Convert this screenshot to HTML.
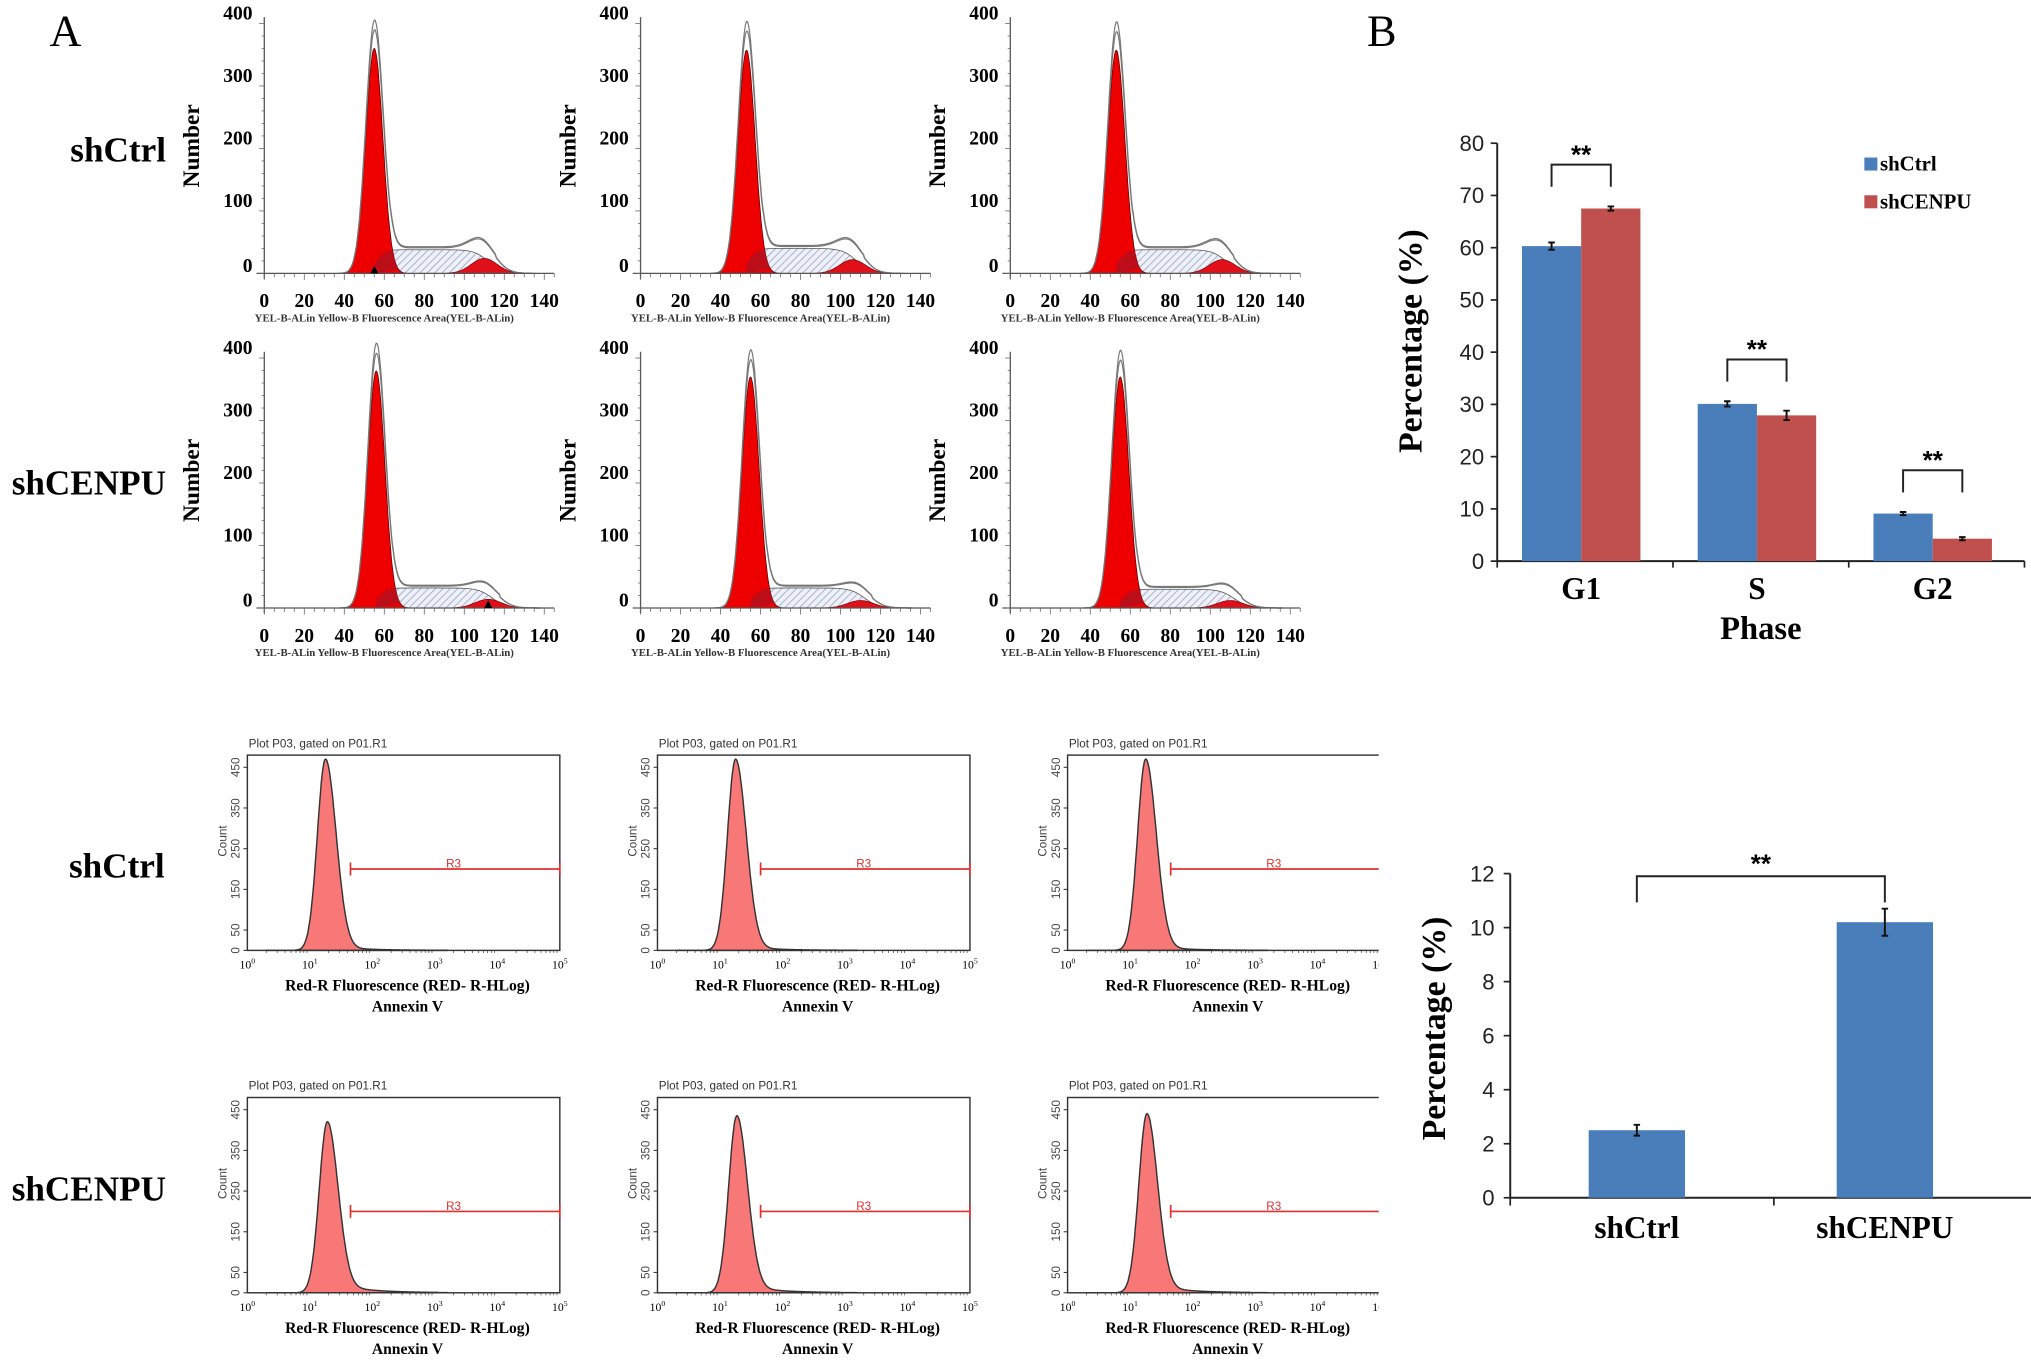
<!DOCTYPE html>
<html><head><meta charset="utf-8">
<style>
html,body{margin:0;padding:0;background:#fff;}
svg{display:block;}
text{font-family:"Liberation Serif",serif;}
.sans{font-family:"Liberation Sans",sans-serif;}
</style></head>
<body>
<svg id="fig" width="2031" height="1367" viewBox="0 0 1560 1050" preserveAspectRatio="none" xmlns="http://www.w3.org/2000/svg">
<defs>
<pattern id="hatch" patternUnits="userSpaceOnUse" width="4" height="4" patternTransform="rotate(45)">
<rect width="4" height="4" fill="#eef0f8"/>
<line x1="0" y1="0" x2="0" y2="4" stroke="#8890b8" stroke-width="1"/>
</pattern>
</defs>
<text x="38" y="35" font-size="34">A</text>
<text x="1050" y="35" font-size="34">B</text>
<text x="54" y="124" font-size="27" font-weight="bold">shCtrl</text>
<text x="9" y="380" font-size="27" font-weight="bold">shCENPU</text>
<text x="53" y="674" font-size="27" font-weight="bold">shCtrl</text>
<text x="9" y="922" font-size="27" font-weight="bold">shCENPU</text>
<g id="g-hist"></g>
<g id="g-annex"></g>
<g id="g-barB"></g>
<g id="g-barC"></g>
</svg>
<script>
// ---------- Cell cycle histograms (data) ----------
const histG1Mean = [55, 53, 53, 56, 55, 55];
const histG1Height = [375, 372, 372, 395, 385, 385];
const histSHeight = [38, 40, 38, 32, 32, 30];
const histG2Height = [24, 22, 22, 14, 12, 12];
const histXTicks = [0, 20, 40, 60, 80, 100, 120, 140];
const histYTicks = [0, 100, 200, 300, 400];
// ---------- Annexin histograms (data) ----------
const annexPeakLog = [1.25, 1.25, 1.25, 1.28, 1.27, 1.27];
const annexPeakCount = [470, 470, 470, 420, 435, 440];
const annexTail = [12, 12, 12, 28, 22, 22];
const annexYTicks = [0, 50, 150, 250, 350, 450];
const annexXTicks = [0, 1, 2, 3, 4, 5];
const gateStartLog = 1.65;
const gateCount = 200;
// ---------- Bar chart B (data) ----------
const phases = ["G1", "S", "G2"];
const ctrlPct = [60.3, 30.1, 9.1];
const ctrlErr = [0.7, 0.5, 0.3];
const cenpuPct = [67.5, 27.9, 4.3];
const cenpuErr = [0.4, 0.9, 0.3];
const bTicks = [0, 10, 20, 30, 40, 50, 60, 70, 80];
// ---------- Bar chart C (data) ----------
const groups = ["shCtrl", "shCENPU"];
const apopPct = [2.5, 10.2];
const apopErr = [0.2, 0.5];
const cTicks = [0, 2, 4, 6, 8, 10, 12];

const NS = "http://www.w3.org/2000/svg";
function mk(parent, tag, attrs, txt){
  const e = document.createElementNS(NS, tag);
  for (const k in attrs) e.setAttribute(k, attrs[k]);
  if (txt !== undefined) e.textContent = txt;
  parent.appendChild(e);
  return e;
}
function gauss(x, m, s){ return Math.exp(-0.5*((x-m)/s)*((x-m)/s)); }
function sig(x){ return 1/(1+Math.exp(-x)); }

// ----- Cell cycle panels -----
const gh = document.getElementById('g-hist');
const histAxisX = [203, 492, 776, 203, 492, 776];
const histZeroY = [210, 210, 210, 467, 467, 467];
for (let i = 0; i < 6; i++) {
  const g = mk(gh, 'g', {});
  
  
  const ax = histAxisX[i], zy = histZeroY[i];
  const sx = v => ax + v * 1.536;
  const sy = n => zy - n * 0.48;
  const mu = histG1Mean[i], h1 = histG1Height[i], hs = histSHeight[i], h2 = histG2Height[i];
  const g1 = x => h1 * gauss(x, mu, 4.3);
  const sreg = x => hs * sig((x - mu - 1) / 2.2) * sig((2*mu - x + 2) / 3.5);
  const g2 = x => h2 * gauss(x, 2*mu, 6.5);
  let d = 'M' + sx(mu-5) + ',' + sy(0);
  for (let x = mu-5; x <= 2*mu+20; x += 0.5) d += 'L' + sx(x).toFixed(1) + ',' + sy(sreg(x)).toFixed(1);
  d += 'L' + sx(2*mu+20) + ',' + sy(0) + 'Z';
  const sp = mk(g, 'path', {d: d, fill: 'url(#hatch)', stroke: '#555', 'stroke-width': 0.6});
  
  
  d = 'M' + sx(2*mu-20) + ',' + sy(0);
  for (let x = 2*mu-20; x <= 2*mu+20; x += 0.5) d += 'L' + sx(x).toFixed(1) + ',' + sy(g2(x)).toFixed(1);
  d += 'Z';
  const p2 = mk(g, 'path', {d: d, fill: '#e0101a', stroke: '#700', 'stroke-width': 0.5});
  
  
  d = 'M' + sx(mu-16) + ',' + sy(0);
  for (let x = mu-16; x <= mu+16; x += 0.25) d += 'L' + sx(x).toFixed(1) + ',' + sy(g1(x)*0.96).toFixed(1);
  d += 'Z';
  const p1 = mk(g, 'path', {d: d, fill: '#ee0000', stroke: '#600', 'stroke-width': 0.6});
  
  
  d = 'M' + sx(mu) + ',' + sy(0);
  for (let x = mu; x <= mu+12; x += 0.25) d += 'L' + sx(x).toFixed(1) + ',' + sy(Math.min(sreg(x), g1(x)*0.96)).toFixed(1);
  d += 'Z';
  mk(g, 'path', {d: d, fill: '#b0101e', opacity: 0.8});
  for (const f of [1.0, 1.04]) {
    d = '';
    for (let x = mu-18; x <= 2*mu+26; x += 0.5) {
      const v = (g1(x) + sreg(x) + g2(x)) * f + (x > mu+8 && x < 2*mu+6 ? 3*f : 0);
      d += (d ? 'L' : 'M') + sx(x).toFixed(1) + ',' + sy(v).toFixed(1);
    }
    const o = mk(g, 'path', {d: d, fill: 'none', stroke: '#777', 'stroke-width': 0.9});
    
    
  }
  mk(g, 'line', {x1: ax, y1: sy(410), x2: ax, y2: zy+4, stroke: '#555', 'stroke-width': 1});
  mk(g, 'line', {x1: ax-6, y1: zy, x2: sx(145), y2: zy, stroke: '#555', 'stroke-width': 1});
  for (let v = 0; v <= 400; v += 20) mk(g, 'line', {x1: ax-(v%100?2:4), y1: sy(v), x2: ax, y2: sy(v), stroke: '#666', 'stroke-width': 0.6});
  for (let v = 0; v <= 145; v += 5) mk(g, 'line', {x1: sx(v), y1: zy, x2: sx(v), y2: zy+(v%20?3:5), stroke: '#666', 'stroke-width': 0.6});
  histYTicks.forEach(v => {
    const t = mk(g, 'text', {x: ax-9, y: sy(v)+ (v===0?-1:-3), 'font-size': 15, 'font-weight': 'bold', 'text-anchor': 'end'}, String(v));
    
    
  });
  histXTicks.forEach(v => {
    const t = mk(g, 'text', {x: sx(v), y: zy+26, 'font-size': 15, 'font-weight': 'bold', 'text-anchor': 'middle'}, String(v));
    
    
  });
  const xt = mk(g, 'text', {x: sx(60), y: zy+37, 'font-size': 8.3, 'font-weight': 'bold', 'text-anchor': 'middle', fill: '#333'}, 'YEL-B-ALin Yellow-B Fluorescence Area(YEL-B-ALin)');
  
  
  const yt = mk(g, 'text', {x: 0, y: 0, 'font-size': 18, 'font-weight': 'bold', 'text-anchor': 'middle', transform: 'translate(' + (ax-50) + ',' + (zy-98) + ') rotate(-90)'}, 'Number');
  
  
  if (i === 0 || i === 3) mk(g, 'path', {d: 'M' + (sx(i===0?mu:2*mu)-3) + ',' + (zy+0) + 'l3,-6l3,6z', fill: '#000'});
}

// ----- Annexin panels -----
const ga = document.getElementById('g-annex');
const boxX = [190, 505, 820, 190, 505, 820];
const boxTop = [580, 580, 580, 843, 843, 843];
for (let i = 0; i < 6; i++) {
  const g = mk(ga, 'g', {});
  
  
  const bx = boxX[i], bt = boxTop[i], bw = 240, bh = 150;
  const sx = l => bx + l * bw / 5;
  const sy = c => bt + bh - c * bh / 480;
  const pk = annexPeakLog[i], H = annexPeakCount[i], T = annexTail[i];
  const f = l => {
    const s = l < pk ? 0.13 : 0.17;
    let v = H * gauss(l, pk, s);
    if (l > pk) v += T * Math.exp(-(l - pk) / 0.5) * sig((l - pk - 0.2) / 0.05);
    return v;
  };
  let d = 'M' + sx(0.3) + ',' + sy(0);
  for (let l = 0.3; l <= 3.2; l += 0.01) d += 'L' + sx(l).toFixed(1) + ',' + sy(f(l)).toFixed(1);
  d += 'L' + sx(3.2) + ',' + sy(0) + 'Z';
  const p = mk(g, 'path', {d: d, fill: '#f87878', stroke: '#333', 'stroke-width': 1.1});
  
  
  mk(g, 'rect', {x: bx, y: bt, width: bw, height: bh, fill: 'none', stroke: '#333', 'stroke-width': 1.1});
  const tt = mk(g, 'text', {x: bx+1, y: bt-6, 'font-size': 9, fill: '#333', class: 'sans'}, 'Plot P03, gated on P01.R1');
  
  
  const gy = sy(gateCount);
  const gate = mk(g, 'path', {d: 'M' + sx(gateStartLog) + ',' + gy + 'H' + sx(5) + 'M' + sx(gateStartLog) + ',' + (gy-5) + 'v10M' + sx(5) + ',' + (gy-5) + 'v10', stroke: '#e03030', 'stroke-width': 1.3, fill: 'none'});
  
  
  mk(g, 'text', {x: sx(3.3), y: gy-1, 'font-size': 9, fill: '#e03030', 'text-anchor': 'middle', class: 'sans'}, 'R3');
  annexYTicks.forEach(v => {
    mk(g, 'line', {x1: bx-3, y1: sy(v), x2: bx, y2: sy(v), stroke: '#333', 'stroke-width': 0.8});
    const t = mk(g, 'text', {x: 0, y: 0, 'font-size': 9, fill: '#444', 'text-anchor': 'middle', class: 'sans', transform: 'translate(' + (bx-6) + ',' + sy(v) + ') rotate(-90)'}, String(v));
    
    
  });
  annexXTicks.forEach(v => {
    const t = mk(g, 'text', {x: sx(v), y: bt+bh+14, 'font-size': 9, 'text-anchor': 'middle'}, '10');
    mk(t, 'tspan', {dy: -4, 'font-size': 6}, String(v));
    
    
    for (let k = 2; k < 10 && v < 5; k++) mk(g, 'line', {x1: sx(v + Math.log10(k)), y1: bt+bh, x2: sx(v + Math.log10(k)), y2: bt+bh+2, stroke: '#333', 'stroke-width': 0.5});
  });
  const yl = mk(g, 'text', {x: 0, y: 0, 'font-size': 9, fill: '#444', 'text-anchor': 'middle', class: 'sans', transform: 'translate(' + (bx-16) + ',' + (bt+66) + ') rotate(-90)'}, 'Count');
  
  
  const x1 = mk(g, 'text', {x: bx+123, y: bt+bh+31, 'font-size': 12, 'font-weight': 'bold', 'text-anchor': 'middle'}, 'Red-R Fluorescence (RED- R-HLog)');
  
  
  const x2 = mk(g, 'text', {x: bx+123, y: bt+bh+47, 'font-size': 12, 'font-weight': 'bold', 'text-anchor': 'middle'}, 'Annexin V');
  
  
}
mk(ga, 'rect', {x: 1059, y: 560, width: 40, height: 500, fill: '#fff'});

// ----- Bar chart B -----
const gb = document.getElementById('g-barB');
{
  const ax = 1150, y0 = 431, y80 = 110, right = 1555;
  const sy = v => y0 - v * (y0 - y80) / 80;
  const gw = (right - ax) / phases.length;
  const bw = 45.5;
  mk(gb, 'line', {x1: ax, y1: y80, x2: ax, y2: y0, stroke: '#222', 'stroke-width': 1.5});
  mk(gb, 'line', {x1: ax, y1: y0, x2: right, y2: y0, stroke: '#222', 'stroke-width': 1.5});
  bTicks.forEach(v => {
    mk(gb, 'line', {x1: ax-5, y1: sy(v), x2: ax, y2: sy(v), stroke: '#222', 'stroke-width': 1.3});
    const t = mk(gb, 'text', {x: ax-10, y: sy(v)+6, 'font-size': 17, 'text-anchor': 'end', class: 'sans', fill: '#222'}, String(v));
    
    
  });
  for (let k = 0; k <= phases.length; k++) mk(gb, 'line', {x1: ax + k*gw, y1: y0, x2: ax + k*gw, y2: y0+5, stroke: '#222', 'stroke-width': 1.3});
  phases.forEach((p, k) => {
    const cx = ax + gw*k + gw/2 - 3;
    [[ctrlPct[k], ctrlErr[k], '#4a7ebb', cx-bw, 'bar-shctrl-'], [cenpuPct[k], cenpuErr[k], '#c0504d', cx, 'bar-shcenpu-']].forEach(([v, e, c, x, nm]) => {
      const r = mk(gb, 'rect', {x: x, y: sy(v), width: bw, height: y0 - sy(v), fill: c});
      
      
      mk(gb, 'path', {d: 'M' + (x+bw/2) + ',' + sy(v+e) + 'V' + sy(v-e) + 'M' + (x+bw/2-2.5) + ',' + sy(v+e) + 'h5M' + (x+bw/2-2.5) + ',' + sy(v-e) + 'h5', stroke: '#111', 'stroke-width': 1.5});
    });
    const top = sy(Math.max(ctrlPct[k]+ctrlErr[k], cenpuPct[k]+cenpuErr[k]) + 8);
    const b = mk(gb, 'path', {d: 'M' + (cx-bw/2) + ',' + (top+17) + 'V' + top + 'H' + (cx+bw/2) + 'V' + (top+17), fill: 'none', stroke: '#222', 'stroke-width': 1.5});
    
    
    mk(gb, 'text', {x: cx, y: top-1, 'font-size': 20, 'font-weight': 'bold', 'text-anchor': 'middle', class: 'sans'}, '**');
    const t = mk(gb, 'text', {x: cx, y: y0+29, 'font-size': 24, 'font-weight': 'bold', 'text-anchor': 'middle'}, p);
    
    
  });
  const xt = mk(gb, 'text', {x: ax + gw*1.5, y: y0+60, 'font-size': 25, 'font-weight': 'bold', 'text-anchor': 'middle'}, 'Phase');
  
  
  const yt = mk(gb, 'text', {x: 0, y: 0, 'font-size': 26, 'font-weight': 'bold', 'text-anchor': 'middle', transform: 'translate(1092,262) rotate(-90)'}, 'Percentage (%)');
  
  
  const l1 = mk(gb, 'g', {});
  
  
  mk(l1, 'rect', {x: 1432, y: 121, width: 10, height: 10, fill: '#4a7ebb'});
  mk(l1, 'text', {x: 1444, y: 131, 'font-size': 16, 'font-weight': 'bold'}, 'shCtrl');
  const l2 = mk(gb, 'g', {});
  
  
  mk(l2, 'rect', {x: 1432, y: 150, width: 10, height: 10, fill: '#c0504d'});
  mk(l2, 'text', {x: 1444, y: 160, 'font-size': 16, 'font-weight': 'bold'}, 'shCENPU');
}

// ----- Bar chart C -----
const gc = document.getElementById('g-barC');
{
  const ax = 1160, y0 = 920, ytop = 671, right = 1565;
  const sy = v => y0 - v * (y0 - ytop) / 12;
  const gw = (right - ax) / groups.length;
  const bw = 74;
  mk(gc, 'line', {x1: ax, y1: ytop, x2: ax, y2: y0, stroke: '#222', 'stroke-width': 1.5});
  mk(gc, 'line', {x1: ax, y1: y0, x2: right, y2: y0, stroke: '#222', 'stroke-width': 1.5});
  cTicks.forEach(v => {
    mk(gc, 'line', {x1: ax-5, y1: sy(v), x2: ax, y2: sy(v), stroke: '#222', 'stroke-width': 1.3});
    const t = mk(gc, 'text', {x: ax-12, y: sy(v)+6, 'font-size': 17, 'text-anchor': 'end', class: 'sans', fill: '#222'}, String(v));
    
    
  });
  for (let k = 0; k <= groups.length; k++) mk(gc, 'line', {x1: ax + k*gw, y1: y0, x2: ax + k*gw, y2: y0+6, stroke: '#222', 'stroke-width': 1.3});
  const cxs = [];
  groups.forEach((gname, k) => {
    const cx = ax + gw*k + gw/2 - 4 + k*(-12);
    cxs.push(cx);
    const r = mk(gc, 'rect', {x: cx-bw/2, y: sy(apopPct[k]), width: bw, height: y0 - sy(apopPct[k]), fill: '#4a7ebb'});
    
    
    const e = apopErr[k], v = apopPct[k];
    mk(gc, 'path', {d: 'M' + cx + ',' + sy(v+e) + 'V' + sy(v-e) + 'M' + (cx-2.5) + ',' + sy(v+e) + 'h5M' + (cx-2.5) + ',' + sy(v-e) + 'h5', stroke: '#111', 'stroke-width': 1.5});
    const t = mk(gc, 'text', {x: cx, y: y0+31, 'font-size': 24, 'font-weight': 'bold', 'text-anchor': 'middle'}, gname);
    
    
  });
  const bt = sy(Math.max(apopPct[0]+apopErr[0], apopPct[1]+apopErr[1]) + 1.2);
  const b = mk(gc, 'path', {d: 'M' + cxs[0] + ',' + (bt+20) + 'V' + bt + 'H' + cxs[1] + 'V' + (bt+20), fill: 'none', stroke: '#222', 'stroke-width': 1.5});
  
  
  mk(gc, 'text', {x: (cxs[0]+cxs[1])/2, y: bt-3, 'font-size': 20, 'font-weight': 'bold', 'text-anchor': 'middle', class: 'sans'}, '**');
  const yt = mk(gc, 'text', {x: 0, y: 0, 'font-size': 26, 'font-weight': 'bold', 'text-anchor': 'middle', transform: 'translate(1110,790) rotate(-90)'}, 'Percentage (%)');
  
  
}
</script>
</body></html>
